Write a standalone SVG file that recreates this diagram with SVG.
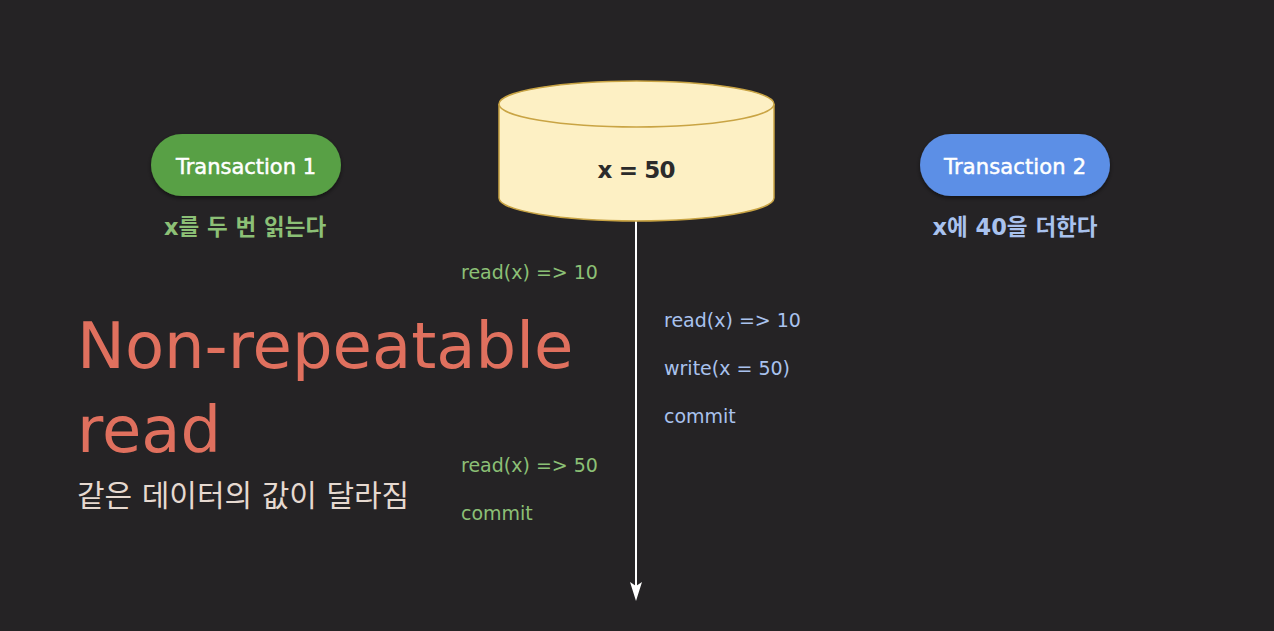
<svg xmlns="http://www.w3.org/2000/svg" width="1274" height="631" viewBox="0 0 1274 631">
<defs>
<style>
.t{font-family:"DejaVu Sans","Noto Sans CJK KR",sans-serif}
.pill{font-size:21px;fill:#ffffff;stroke:#ffffff;stroke-width:0.5;text-anchor:middle}
.g{fill:#8cc076;font-size:19px}
.b{fill:#a9c2ee;font-size:19px}
.sub{font-size:22.5px;font-weight:bold;text-anchor:middle}
</style>
<filter id="sh" x="-20%" y="-20%" width="140%" height="160%">
<feDropShadow dx="0" dy="2" stdDeviation="2" flood-color="#000" flood-opacity="0.5"/>
</filter>
</defs>
<rect width="1274" height="631" fill="#252325"/>
<g id="connectors">
<line x1="636" y1="221" x2="636" y2="596" stroke="#ffffff" stroke-width="2"/>
<path d="M630,582 L636,601 L642,582 L636,586 Z" fill="#ffffff"/>
</g>
<g id="db">
<path d="M499,104 L499,198 A137.5,23 0 0 0 774,198 L774,104" fill="#fdf0c4" stroke="#c9a444" stroke-width="1.5"/>
<ellipse cx="636.5" cy="104" rx="137.5" ry="23" fill="#fdf0c4" stroke="#c9a444" stroke-width="1.5"/>
<text class="t" x="636.5" y="178" font-size="23" font-weight="bold" fill="#2b2b2b" text-anchor="middle" textLength="78">x = 50</text>
</g>
<g id="t1">
<rect x="151" y="134" width="190" height="62" rx="31" fill="#58a045" filter="url(#sh)"/>
<text class="t pill" x="246" y="174" textLength="140">Transaction 1</text>
<text class="t sub" x="245" y="235" fill="#8cc076">x를 두 번 읽는다</text>
</g>
<g id="t2">
<rect x="920" y="134" width="190" height="62" rx="31" fill="#5b8fe6" filter="url(#sh)"/>
<text class="t pill" x="1015" y="174" textLength="142">Transaction 2</text>
<text class="t sub" x="1015" y="235" fill="#a9c2ee">x에 40을 더한다</text>
</g>
<g id="ops">
<text class="t g" x="461" y="279">read(x) =&gt; 10</text>
<text class="t b" x="664" y="327">read(x) =&gt; 10</text>
<text class="t b" x="664" y="375">write(x = 50)</text>
<text class="t b" x="664" y="423">commit</text>
<text class="t g" x="461" y="472">read(x) =&gt; 50</text>
<text class="t g" x="461" y="520">commit</text>
</g>
<g id="title">
<text class="t" x="77" y="368" font-size="64" fill="#e0705e">Non-repeatable</text>
<text class="t" x="77" y="452" font-size="64" fill="#e0705e">read</text>
<text class="t" x="77" y="506" font-size="30" fill="#e6d9d0">같은 데이터의 값이 달라짐</text>
</g>
</svg>
